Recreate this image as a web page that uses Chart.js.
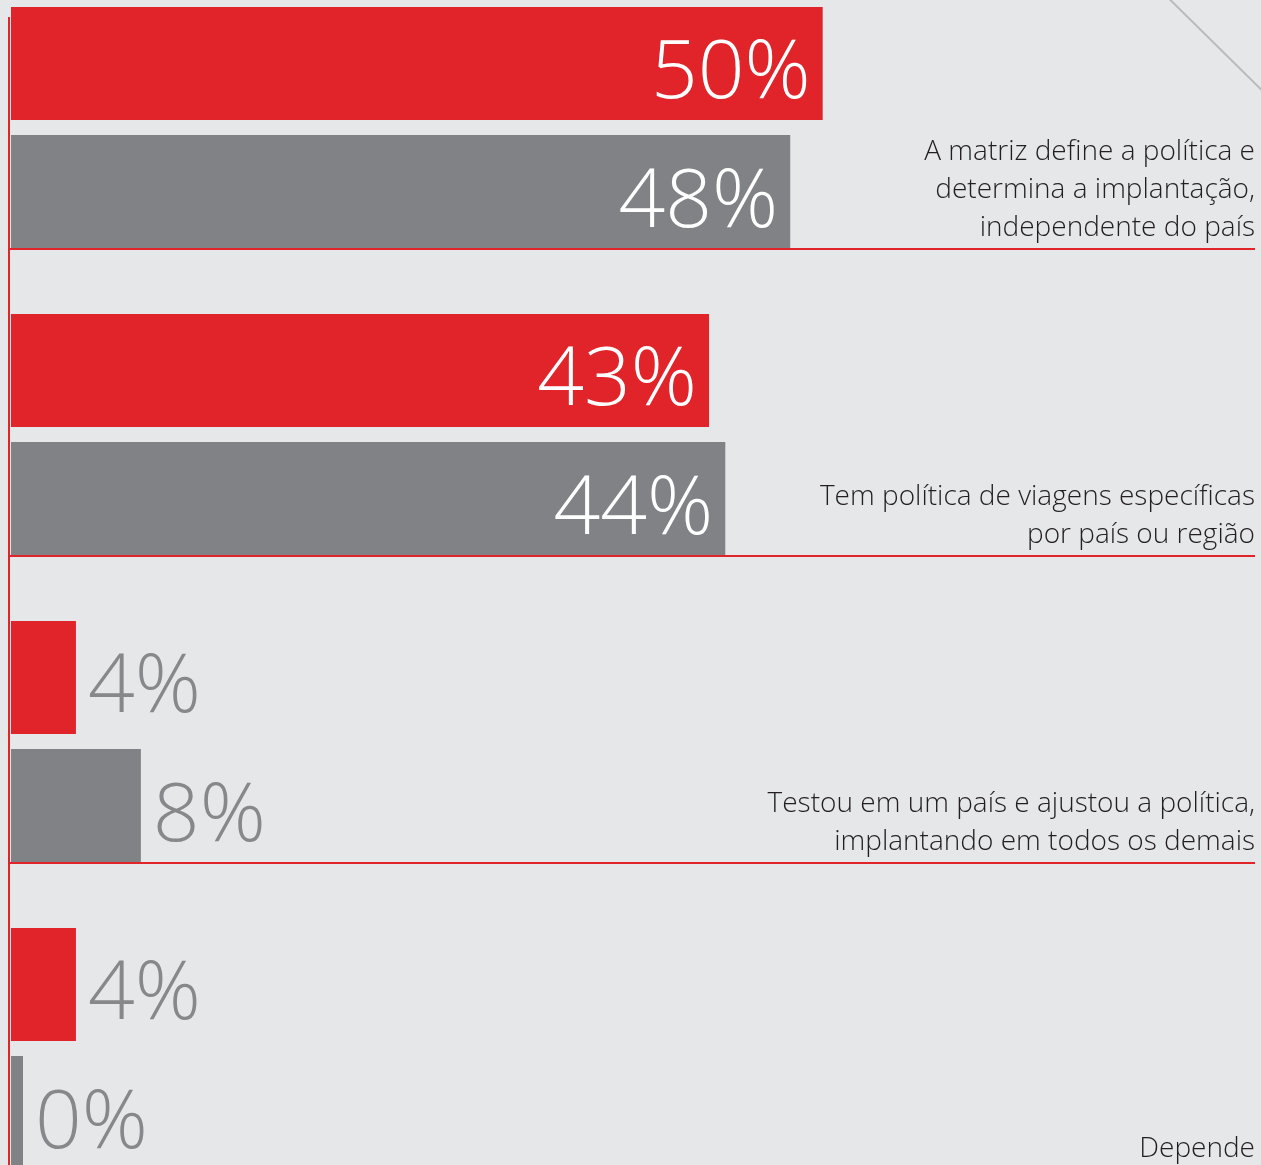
<!DOCTYPE html>
<html>
<head>
<meta charset="utf-8">
<script src="https://cdn.jsdelivr.net/npm/chart.js@4/dist/chart.umd.min.js"></script>
<style>
  html, body { margin: 0; padding: 0; background: #e6e7e8; }
  #frame { position: relative; width: 1261px; height: 1165px; overflow: hidden; }
  #wrap { position: absolute; left: 0; top: -26px; width: 1261px; height: 1228px; }
</style>
</head>
<body>
<div id="frame"><div id="wrap"><canvas id="policyChart" width="1261" height="1228"></canvas></div></div>
<script>
// category labels (one array entry per text line)
const categories = [
  ["A matriz define a política e", "determina a implantação,", "independente do país"],
  ["Tem política de viagens específicas", "por país ou região"],
  ["Testou em um país e ajustou a política,", "implantando em todos os demais"],
  ["Depende"]
];
const seriesNames = ["Série 1", "Série 2"];
const redValues = [50, 43, 4, 4];
const grayValues = [48, 44, 8, 0];

const SHIFT = 26;          // canvas starts above the visible frame
const RED = "#e1232a";
const GRAY = "#818286";
const LABEL_FONT = "300 82px 'Open Sans', 'DejaVu Sans', sans-serif";
const TEXT_FONT = "300 28px 'Open Sans', 'DejaVu Sans', sans-serif";

const decorations = {
  id: "decorations",
  beforeDatasetsDraw(chart) {
    const ctx = chart.ctx;
    const area = chart.chartArea;
    ctx.save();
    // thin diagonal in the top right corner
    ctx.strokeStyle = "#b9babc";
    ctx.lineWidth = 2;
    ctx.beginPath();
    ctx.moveTo(1140, -30 + SHIFT);
    ctx.lineTo(1290, 118 + SHIFT);
    ctx.stroke();
    // red axis line
    ctx.strokeStyle = RED;
    ctx.beginPath();
    ctx.moveTo(area.left - 2, 17 + SHIFT);
    ctx.lineTo(area.left - 2, chart.height);
    ctx.stroke();
    ctx.restore();
  },
  afterDatasetsDraw(chart) {
    const ctx = chart.ctx;
    const area = chart.chartArea;
    const redBars = chart.getDatasetMeta(0).data;
    const grayBars = chart.getDatasetMeta(1).data;
    ctx.save();

    // value labels: inside the long bars, beside the short ones
    [[redBars, redValues], [grayBars, grayValues]].forEach(([bars, vals]) => {
      bars.forEach((bar, i) => {
        const txt = vals[i] + "%";
        ctx.font = LABEL_FONT;
        ctx.textBaseline = "alphabetic";
        if (bar.x - bar.base > 300) {
          ctx.fillStyle = "#ffffff";
          ctx.textAlign = "right";
          ctx.fillText(txt, bar.x - 12, bar.y + 35);
        } else {
          ctx.fillStyle = "#87888b";
          ctx.textAlign = "left";
          ctx.fillText(txt, bar.x + 12, bar.y + 35);
        }
      });
    });

    // separator under each group, with the category text sitting on it
    const rightEdge = chart.width - 6;
    grayBars.forEach((bar, i) => {
      const lineY = bar.y + bar.height / 2 + 1;
      ctx.strokeStyle = RED;
      ctx.lineWidth = 2;
      ctx.beginPath();
      ctx.moveTo(area.left - 3, lineY);
      ctx.lineTo(rightEdge, lineY);
      ctx.stroke();

      const lines = categories[i];
      ctx.font = TEXT_FONT;
      ctx.fillStyle = "#231f20";
      ctx.textAlign = "right";
      ctx.textBaseline = "alphabetic";
      lines.forEach((ln, j) => {
        const y = lineY - 13 - (lines.length - 1 - j) * 38;
        ctx.fillText(ln, rightEdge, y);
      });
    });
    ctx.restore();
  }
};

const data = {
  labels: categories,
  datasets: [
    {
      label: seriesNames[0],
      backgroundColor: RED,
      data: redValues,
      borderWidth: 0,
      barPercentage: 0.883,
      categoryPercentage: 0.834,
    },
    {
      label: seriesNames[1],
      backgroundColor: GRAY,
      data: grayValues,
      borderWidth: 0,
      minBarLength: 12,
      barPercentage: 0.883,
      categoryPercentage: 0.834,
    },
  ],
};

const config = {
  type: "bar",
  data: data,
  options: {
    indexAxis: "y",
    responsive: false,
    animation: false,
    layout: { padding: { left: 11, right: 0, top: 0, bottom: 0 } },
    plugins: {
      legend: { display: false },
      tooltip: { enabled: false },
    },
    scales: {
      x: { display: false, min: 0, max: 77 },
      y: { display: false },
    },
  },
  plugins: [decorations],
};

const ctx = document.getElementById("policyChart").getContext("2d");
const policyChart = new Chart(ctx, config);
</script>
</body>
</html>
